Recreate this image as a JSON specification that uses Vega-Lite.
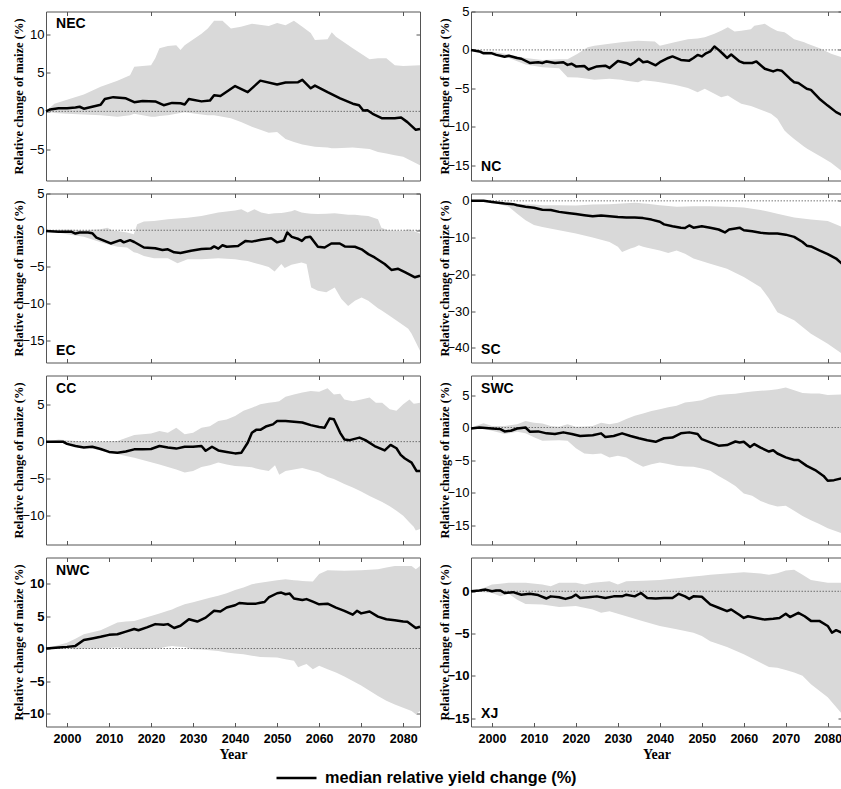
{
"$schema": "https://vega.github.io/schema/vega-lite/v6.json",
"padding": {"left": 11, "top": 4.5, "right": 0, "bottom": 2},
"datasets": {
"band": [
{"r":"NEC","t":1995,"lo":0,"hi":0},{"r":"NEC","t":1997,"lo":-0.2,"hi":1.0},{"r":"NEC","t":2000,"lo":-0.3,"hi":1.5},{"r":"NEC","t":2004,"lo":-0.4,"hi":2.2},{"r":"NEC","t":2008,"lo":-0.5,"hi":3.2},{"r":"NEC","t":2012,"lo":-0.7,"hi":4.0},{"r":"NEC","t":2015,"lo":-0.5,"hi":4.7},{"r":"NEC","t":2016,"lo":-0.3,"hi":5.8},{"r":"NEC","t":2020,"lo":-0.7,"hi":6.0},{"r":"NEC","t":2021,"lo":-0.7,"hi":6.9},{"r":"NEC","t":2022,"lo":-0.6,"hi":8.2},{"r":"NEC","t":2024,"lo":-0.5,"hi":8.5},{"r":"NEC","t":2026,"lo":-0.3,"hi":8.6},{"r":"NEC","t":2027,"lo":-0.2,"hi":8.0},{"r":"NEC","t":2028,"lo":-0.1,"hi":8.6},{"r":"NEC","t":2032,"lo":-0.4,"hi":10.1},{"r":"NEC","t":2033.5,"lo":-0.5,"hi":10.8},{"r":"NEC","t":2035,"lo":-0.5,"hi":11.8},{"r":"NEC","t":2037,"lo":-0.7,"hi":11.8},{"r":"NEC","t":2039,"lo":-0.9,"hi":10.8},{"r":"NEC","t":2041.4,"lo":-1.4,"hi":11.0},{"r":"NEC","t":2044,"lo":-2.0,"hi":11.4},{"r":"NEC","t":2048,"lo":-2.8,"hi":11.1},{"r":"NEC","t":2050,"lo":-2.7,"hi":11.5},{"r":"NEC","t":2052,"lo":-3.6,"hi":11.2},{"r":"NEC","t":2054,"lo":-4.0,"hi":11.8},{"r":"NEC","t":2056,"lo":-4.3,"hi":11.0},{"r":"NEC","t":2058,"lo":-4.5,"hi":10.2},{"r":"NEC","t":2059,"lo":-4.6,"hi":9.3},{"r":"NEC","t":2062,"lo":-4.7,"hi":9.4},{"r":"NEC","t":2063,"lo":-4.8,"hi":10.3},{"r":"NEC","t":2064,"lo":-4.8,"hi":9.7},{"r":"NEC","t":2068,"lo":-4.7,"hi":8.2},{"r":"NEC","t":2072,"lo":-4.9,"hi":6.8},{"r":"NEC","t":2074,"lo":-5.3,"hi":6.9},{"r":"NEC","t":2076,"lo":-5.5,"hi":6.9},{"r":"NEC","t":2078,"lo":-5.7,"hi":6.0},{"r":"NEC","t":2080,"lo":-5.9,"hi":5.9},{"r":"NEC","t":2084,"lo":-7.0,"hi":6.0},
{"r":"NC","t":1995,"lo":0,"hi":0},{"r":"NC","t":2000,"lo":-0.6,"hi":-0.2},{"r":"NC","t":2004,"lo":-1.05,"hi":-0.6},{"r":"NC","t":2008,"lo":-1.9,"hi":-1.05},{"r":"NC","t":2012,"lo":-2.25,"hi":-1.3},{"r":"NC","t":2016,"lo":-2.4,"hi":-1.2},{"r":"NC","t":2018,"lo":-3.55,"hi":-1.2},{"r":"NC","t":2020.4,"lo":-3.6,"hi":-0.5},{"r":"NC","t":2022.8,"lo":-3.75,"hi":0.35},{"r":"NC","t":2024.4,"lo":-3.9,"hi":0.55},{"r":"NC","t":2028,"lo":-3.75,"hi":0.8},{"r":"NC","t":2030.8,"lo":-3.9,"hi":1.0},{"r":"NC","t":2032,"lo":-4.0,"hi":1.05},{"r":"NC","t":2034.8,"lo":-4.2,"hi":1.2},{"r":"NC","t":2036,"lo":-3.95,"hi":1.15},{"r":"NC","t":2038.8,"lo":-4.1,"hi":1.1},{"r":"NC","t":2040,"lo":-4.2,"hi":0.55},{"r":"NC","t":2043.5,"lo":-4.55,"hi":1.0},{"r":"NC","t":2046.7,"lo":-4.95,"hi":1.4},{"r":"NC","t":2049,"lo":-5.5,"hi":1.5},{"r":"NC","t":2050.7,"lo":-5.05,"hi":1.65},{"r":"NC","t":2053,"lo":-5.7,"hi":2.1},{"r":"NC","t":2054.6,"lo":-6.15,"hi":2.5},{"r":"NC","t":2056.2,"lo":-5.95,"hi":2.95},{"r":"NC","t":2057.8,"lo":-6.5,"hi":2.4},{"r":"NC","t":2059.4,"lo":-7.0,"hi":2.5},{"r":"NC","t":2061.7,"lo":-7.3,"hi":2.7},{"r":"NC","t":2062.5,"lo":-7.45,"hi":3.15},{"r":"NC","t":2065,"lo":-8.0,"hi":3.4},{"r":"NC","t":2066.5,"lo":-8.3,"hi":2.9},{"r":"NC","t":2068,"lo":-8.95,"hi":2.45},{"r":"NC","t":2069.7,"lo":-10.5,"hi":2.3},{"r":"NC","t":2070.5,"lo":-10.9,"hi":2.0},{"r":"NC","t":2072,"lo":-11.6,"hi":1.4},{"r":"NC","t":2074.4,"lo":-12.6,"hi":1.0},{"r":"NC","t":2075.2,"lo":-12.9,"hi":0.8},{"r":"NC","t":2078.4,"lo":-13.9,"hi":0.15},{"r":"NC","t":2080.8,"lo":-14.7,"hi":-0.5},{"r":"NC","t":2083.4,"lo":-15.8,"hi":-0.95},
{"r":"EC","t":1995,"lo":0,"hi":0},{"r":"EC","t":2000,"lo":-0.55,"hi":0.1},{"r":"EC","t":2004,"lo":-0.9,"hi":0},{"r":"EC","t":2008,"lo":-1.65,"hi":0.15},{"r":"EC","t":2009.6,"lo":-1.9,"hi":0.35},{"r":"EC","t":2011.1,"lo":-2.1,"hi":-0.1},{"r":"EC","t":2012,"lo":-2.25,"hi":-0.1},{"r":"EC","t":2014.3,"lo":-2.35,"hi":-0.3},{"r":"EC","t":2015.9,"lo":-3.0,"hi":-0.55},{"r":"EC","t":2016.7,"lo":-3.1,"hi":0.8},{"r":"EC","t":2018.3,"lo":-3.5,"hi":1.2},{"r":"EC","t":2020.7,"lo":-3.8,"hi":1.25},{"r":"EC","t":2024,"lo":-3.8,"hi":1.5},{"r":"EC","t":2026.3,"lo":-4.5,"hi":1.6},{"r":"EC","t":2028.7,"lo":-3.95,"hi":1.7},{"r":"EC","t":2032,"lo":-3.95,"hi":1.95},{"r":"EC","t":2036,"lo":-3.8,"hi":2.4},{"r":"EC","t":2040,"lo":-3.95,"hi":2.7},{"r":"EC","t":2041.5,"lo":-4.1,"hi":2.85},{"r":"EC","t":2043,"lo":-4.2,"hi":2.4},{"r":"EC","t":2044.6,"lo":-4.45,"hi":2.85},{"r":"EC","t":2046.2,"lo":-4.7,"hi":2.4},{"r":"EC","t":2048,"lo":-5.0,"hi":2.2},{"r":"EC","t":2049.4,"lo":-5.6,"hi":2.3},{"r":"EC","t":2051,"lo":-4.6,"hi":2.35},{"r":"EC","t":2051.8,"lo":-5.15,"hi":2.4},{"r":"EC","t":2053.4,"lo":-4.7,"hi":2.6},{"r":"EC","t":2054.2,"lo":-4.6,"hi":2.75},{"r":"EC","t":2055.8,"lo":-4.4,"hi":2.4},{"r":"EC","t":2057,"lo":-4.6,"hi":2.3},{"r":"EC","t":2058.1,"lo":-7.8,"hi":2.25},{"r":"EC","t":2059.7,"lo":-8.25,"hi":2.2},{"r":"EC","t":2061.7,"lo":-8.45,"hi":2.25},{"r":"EC","t":2063.7,"lo":-7.8,"hi":2.3},{"r":"EC","t":2065.3,"lo":-9.35,"hi":2.2},{"r":"EC","t":2066.9,"lo":-10.3,"hi":2.1},{"r":"EC","t":2068.5,"lo":-9.6,"hi":2.1},{"r":"EC","t":2070.1,"lo":-9.15,"hi":2.0},{"r":"EC","t":2071.7,"lo":-9.6,"hi":1.95},{"r":"EC","t":2074,"lo":-10.6,"hi":1.5},{"r":"EC","t":2074.8,"lo":-10.9,"hi":0.35},{"r":"EC","t":2076.4,"lo":-11.5,"hi":0},{"r":"EC","t":2079.6,"lo":-12.75,"hi":-0.1},{"r":"EC","t":2081.2,"lo":-13.4,"hi":0.15},{"r":"EC","t":2082,"lo":-14.1,"hi":0.0},{"r":"EC","t":2084,"lo":-16.4,"hi":-0.45},
{"r":"SC","t":1995,"lo":0,"hi":0},{"r":"SC","t":2000,"lo":-0.4,"hi":-0.2},{"r":"SC","t":2004,"lo":-1.6,"hi":-0.6},{"r":"SC","t":2006,"lo":-3.5,"hi":-0.8},{"r":"SC","t":2008,"lo":-5.3,"hi":-0.9},{"r":"SC","t":2010,"lo":-6.6,"hi":-1.0},{"r":"SC","t":2012,"lo":-7.1,"hi":-1.2},{"r":"SC","t":2016,"lo":-8.0,"hi":-1.2},{"r":"SC","t":2020,"lo":-8.9,"hi":-1.3},{"r":"SC","t":2024,"lo":-10.0,"hi":-1.0},{"r":"SC","t":2028,"lo":-11.2,"hi":-0.9},{"r":"SC","t":2030,"lo":-12.5,"hi":-0.8},{"r":"SC","t":2031,"lo":-13.9,"hi":-0.75},{"r":"SC","t":2033,"lo":-13.0,"hi":-0.6},{"r":"SC","t":2034,"lo":-12.6,"hi":-0.5},{"r":"SC","t":2035,"lo":-12.1,"hi":-0.6},{"r":"SC","t":2036,"lo":-12.5,"hi":-0.7},{"r":"SC","t":2037,"lo":-12.8,"hi":-0.8},{"r":"SC","t":2040,"lo":-13.5,"hi":-1.2},{"r":"SC","t":2042,"lo":-14.2,"hi":-1.4},{"r":"SC","t":2044,"lo":-13.5,"hi":-1.6},{"r":"SC","t":2046,"lo":-14.4,"hi":-1.55},{"r":"SC","t":2048,"lo":-15.7,"hi":-1.5},{"r":"SC","t":2052,"lo":-17.1,"hi":-1.5},{"r":"SC","t":2056,"lo":-18.5,"hi":-1.6},{"r":"SC","t":2060,"lo":-20.7,"hi":-1.8},{"r":"SC","t":2064,"lo":-23.5,"hi":-2.5},{"r":"SC","t":2066,"lo":-26.6,"hi":-3.0},{"r":"SC","t":2068,"lo":-30.3,"hi":-3.5},{"r":"SC","t":2072,"lo":-32.5,"hi":-4.5},{"r":"SC","t":2076,"lo":-36.2,"hi":-5.1},{"r":"SC","t":2080,"lo":-38.9,"hi":-5.5},{"r":"SC","t":2083.4,"lo":-41.6,"hi":-7.1},
{"r":"CC","t":1995,"lo":0,"hi":0},{"r":"CC","t":1998,"lo":-0.1,"hi":0.3},{"r":"CC","t":2000,"lo":-0.3,"hi":0.2},{"r":"CC","t":2004,"lo":-0.7,"hi":0},{"r":"CC","t":2008,"lo":-1.2,"hi":0},{"r":"CC","t":2012,"lo":-1.7,"hi":0.1},{"r":"CC","t":2014,"lo":-1.95,"hi":0.5},{"r":"CC","t":2016,"lo":-2.2,"hi":0.9},{"r":"CC","t":2020,"lo":-2.8,"hi":1.1},{"r":"CC","t":2022,"lo":-3.1,"hi":1.45},{"r":"CC","t":2024,"lo":-3.45,"hi":1.2},{"r":"CC","t":2026,"lo":-3.8,"hi":1.9},{"r":"CC","t":2028,"lo":-4.2,"hi":1.0},{"r":"CC","t":2030,"lo":-4.0,"hi":1.2},{"r":"CC","t":2032,"lo":-3.45,"hi":1.9},{"r":"CC","t":2034,"lo":-3.2,"hi":2.1},{"r":"CC","t":2036,"lo":-2.85,"hi":2.8},{"r":"CC","t":2038,"lo":-3.1,"hi":3.0},{"r":"CC","t":2040,"lo":-3.3,"hi":3.5},{"r":"CC","t":2042,"lo":-3.4,"hi":4.2},{"r":"CC","t":2044,"lo":-3.5,"hi":4.6},{"r":"CC","t":2046,"lo":-3.8,"hi":5.1},{"r":"CC","t":2048,"lo":-4.0,"hi":5.3},{"r":"CC","t":2049.5,"lo":-3.2,"hi":5.4},{"r":"CC","t":2050.5,"lo":-4.5,"hi":5.5},{"r":"CC","t":2052,"lo":-4.0,"hi":6.1},{"r":"CC","t":2054,"lo":-3.8,"hi":6.4},{"r":"CC","t":2056,"lo":-3.6,"hi":6.7},{"r":"CC","t":2058,"lo":-3.9,"hi":6.9},{"r":"CC","t":2060,"lo":-4.2,"hi":6.8},{"r":"CC","t":2062,"lo":-4.8,"hi":7.25},{"r":"CC","t":2063.5,"lo":-5.1,"hi":6.4},{"r":"CC","t":2065,"lo":-5.5,"hi":6.5},{"r":"CC","t":2066,"lo":-5.75,"hi":5.75},{"r":"CC","t":2068,"lo":-6.25,"hi":5.5},{"r":"CC","t":2070,"lo":-6.8,"hi":5.75},{"r":"CC","t":2072,"lo":-7.4,"hi":6.0},{"r":"CC","t":2073.5,"lo":-7.8,"hi":5.3},{"r":"CC","t":2075,"lo":-8.2,"hi":5.3},{"r":"CC","t":2076.8,"lo":-8.8,"hi":4.4},{"r":"CC","t":2078.4,"lo":-9.4,"hi":4.2},{"r":"CC","t":2080,"lo":-10.1,"hi":5.1},{"r":"CC","t":2081.5,"lo":-11.0,"hi":5.75},{"r":"CC","t":2082.5,"lo":-11.6,"hi":5.15},{"r":"CC","t":2083,"lo":-12.1,"hi":5.2},{"r":"CC","t":2084,"lo":-11.9,"hi":5.3},
{"r":"SWC","t":1995,"lo":0,"hi":0},{"r":"SWC","t":1998,"lo":-0.2,"hi":0.65},{"r":"SWC","t":2000,"lo":-0.5,"hi":0.25},{"r":"SWC","t":2003,"lo":-1.0,"hi":0.25},{"r":"SWC","t":2006,"lo":-0.65,"hi":0.5},{"r":"SWC","t":2008,"lo":-0.9,"hi":1.0},{"r":"SWC","t":2010,"lo":-1.5,"hi":0.75},{"r":"SWC","t":2012,"lo":-2.05,"hi":0.6},{"r":"SWC","t":2014,"lo":-2.0,"hi":0.25},{"r":"SWC","t":2016,"lo":-1.95,"hi":0.1},{"r":"SWC","t":2018,"lo":-2.05,"hi":0.5},{"r":"SWC","t":2020,"lo":-3.2,"hi":0.1},{"r":"SWC","t":2022,"lo":-4.0,"hi":0.15},{"r":"SWC","t":2024,"lo":-4.1,"hi":0.25},{"r":"SWC","t":2026,"lo":-4.0,"hi":0.75},{"r":"SWC","t":2028,"lo":-4.6,"hi":0.5},{"r":"SWC","t":2030,"lo":-4.35,"hi":0.75},{"r":"SWC","t":2032,"lo":-4.6,"hi":1.3},{"r":"SWC","t":2034,"lo":-5.4,"hi":1.8},{"r":"SWC","t":2036,"lo":-6.05,"hi":2.15},{"r":"SWC","t":2038,"lo":-5.65,"hi":2.55},{"r":"SWC","t":2040,"lo":-5.4,"hi":2.8},{"r":"SWC","t":2042,"lo":-5.6,"hi":3.1},{"r":"SWC","t":2044,"lo":-5.9,"hi":3.35},{"r":"SWC","t":2046,"lo":-6.0,"hi":3.85},{"r":"SWC","t":2048,"lo":-6.05,"hi":4.0},{"r":"SWC","t":2050,"lo":-6.3,"hi":4.2},{"r":"SWC","t":2052,"lo":-6.65,"hi":4.7},{"r":"SWC","t":2054,"lo":-7.45,"hi":5.0},{"r":"SWC","t":2056,"lo":-8.2,"hi":5.1},{"r":"SWC","t":2058,"lo":-9.0,"hi":5.2},{"r":"SWC","t":2060,"lo":-10.15,"hi":5.4},{"r":"SWC","t":2062,"lo":-10.5,"hi":5.55},{"r":"SWC","t":2064,"lo":-11.3,"hi":5.65},{"r":"SWC","t":2066,"lo":-11.8,"hi":5.75},{"r":"SWC","t":2068,"lo":-12.15,"hi":5.9},{"r":"SWC","t":2070,"lo":-12.05,"hi":6.15},{"r":"SWC","t":2072,"lo":-12.8,"hi":5.75},{"r":"SWC","t":2074,"lo":-13.6,"hi":5.3},{"r":"SWC","t":2076,"lo":-14.25,"hi":5.25},{"r":"SWC","t":2078,"lo":-14.85,"hi":5.25},{"r":"SWC","t":2080,"lo":-15.5,"hi":5.0},{"r":"SWC","t":2083.4,"lo":-16.3,"hi":5.1},
{"r":"NWC","t":1995,"lo":0,"hi":0},{"r":"NWC","t":2000,"lo":0,"hi":0.9},{"r":"NWC","t":2002,"lo":-0.1,"hi":1.5},{"r":"NWC","t":2004,"lo":-0.05,"hi":2.2},{"r":"NWC","t":2006,"lo":0,"hi":2.5},{"r":"NWC","t":2008,"lo":0.05,"hi":2.8},{"r":"NWC","t":2012,"lo":0.15,"hi":4.0},{"r":"NWC","t":2014,"lo":0.05,"hi":4.15},{"r":"NWC","t":2016,"lo":0,"hi":4.25},{"r":"NWC","t":2018,"lo":-0.1,"hi":4.6},{"r":"NWC","t":2020,"lo":0,"hi":5.0},{"r":"NWC","t":2022,"lo":0.05,"hi":5.4},{"r":"NWC","t":2024,"lo":0.3,"hi":5.8},{"r":"NWC","t":2025,"lo":0.4,"hi":6.0},{"r":"NWC","t":2026,"lo":0.3,"hi":6.3},{"r":"NWC","t":2028,"lo":0.25,"hi":6.8},{"r":"NWC","t":2030,"lo":-0.1,"hi":7.1},{"r":"NWC","t":2032,"lo":-0.15,"hi":7.45},{"r":"NWC","t":2034,"lo":-0.25,"hi":7.8},{"r":"NWC","t":2036,"lo":-0.4,"hi":8.1},{"r":"NWC","t":2038,"lo":-0.6,"hi":8.5},{"r":"NWC","t":2040,"lo":-0.75,"hi":9.0},{"r":"NWC","t":2042,"lo":-0.9,"hi":9.4},{"r":"NWC","t":2044,"lo":-1.1,"hi":9.9},{"r":"NWC","t":2046,"lo":-1.3,"hi":10.1},{"r":"NWC","t":2048,"lo":-1.35,"hi":10.3},{"r":"NWC","t":2050,"lo":-1.4,"hi":10.5},{"r":"NWC","t":2052,"lo":-1.65,"hi":10.65},{"r":"NWC","t":2054,"lo":-1.9,"hi":10.5},{"r":"NWC","t":2055,"lo":-2.9,"hi":10.45},{"r":"NWC","t":2056,"lo":-2.6,"hi":10.4},{"r":"NWC","t":2057,"lo":-2.4,"hi":10.35},{"r":"NWC","t":2058.5,"lo":-3.2,"hi":10.3},{"r":"NWC","t":2060,"lo":-2.65,"hi":11.45},{"r":"NWC","t":2062,"lo":-3.2,"hi":12.05},{"r":"NWC","t":2064,"lo":-3.7,"hi":12.0},{"r":"NWC","t":2066,"lo":-4.3,"hi":11.95},{"r":"NWC","t":2068,"lo":-5.0,"hi":12.0},{"r":"NWC","t":2070,"lo":-5.7,"hi":12.05},{"r":"NWC","t":2072,"lo":-6.5,"hi":12.1},{"r":"NWC","t":2074,"lo":-7.3,"hi":12.2},{"r":"NWC","t":2076,"lo":-8.05,"hi":12.45},{"r":"NWC","t":2078,"lo":-8.6,"hi":12.7},{"r":"NWC","t":2080,"lo":-9.1,"hi":12.7},{"r":"NWC","t":2082,"lo":-9.6,"hi":12.7},{"r":"NWC","t":2083,"lo":-10.1,"hi":12.2},{"r":"NWC","t":2084,"lo":-9.6,"hi":12.7},
{"r":"XJ","t":1995,"lo":0,"hi":0},{"r":"XJ","t":1998,"lo":-0.1,"hi":0.4},{"r":"XJ","t":2000,"lo":-0.2,"hi":0.8},{"r":"XJ","t":2002,"lo":-0.6,"hi":0.9},{"r":"XJ","t":2004,"lo":-0.3,"hi":1.0},{"r":"XJ","t":2006,"lo":-1.0,"hi":1.0},{"r":"XJ","t":2008,"lo":-1.5,"hi":1.0},{"r":"XJ","t":2012,"lo":-1.55,"hi":0.8},{"r":"XJ","t":2014,"lo":-1.7,"hi":0.6},{"r":"XJ","t":2016,"lo":-1.85,"hi":1.0},{"r":"XJ","t":2020,"lo":-1.75,"hi":1.0},{"r":"XJ","t":2022,"lo":-1.95,"hi":0.8},{"r":"XJ","t":2024,"lo":-2.15,"hi":1.0},{"r":"XJ","t":2026,"lo":-2.55,"hi":1.1},{"r":"XJ","t":2028,"lo":-2.35,"hi":1.2},{"r":"XJ","t":2030,"lo":-2.65,"hi":0.8},{"r":"XJ","t":2032,"lo":-2.95,"hi":1.2},{"r":"XJ","t":2036,"lo":-3.55,"hi":1.25},{"r":"XJ","t":2040,"lo":-4.1,"hi":1.35},{"r":"XJ","t":2044,"lo":-4.5,"hi":1.55},{"r":"XJ","t":2048,"lo":-4.9,"hi":1.75},{"r":"XJ","t":2050,"lo":-5.3,"hi":1.85},{"r":"XJ","t":2052,"lo":-5.9,"hi":1.95},{"r":"XJ","t":2056,"lo":-6.6,"hi":2.1},{"r":"XJ","t":2060,"lo":-7.45,"hi":2.25},{"r":"XJ","t":2064,"lo":-8.45,"hi":2.1},{"r":"XJ","t":2066,"lo":-8.95,"hi":1.95},{"r":"XJ","t":2068,"lo":-9.05,"hi":2.15},{"r":"XJ","t":2070,"lo":-9.3,"hi":2.45},{"r":"XJ","t":2072,"lo":-9.6,"hi":2.55},{"r":"XJ","t":2074,"lo":-10.0,"hi":1.95},{"r":"XJ","t":2076,"lo":-11.0,"hi":1.35},{"r":"XJ","t":2080,"lo":-12.55,"hi":1.0},{"r":"XJ","t":2083.4,"lo":-14.5,"hi":1.0}
],
"med": [
{"r":"NEC","t":1995,"v":0},{"r":"NEC","t":1996,"v":0.25},{"r":"NEC","t":1998,"v":0.4},{"r":"NEC","t":2000,"v":0.4},{"r":"NEC","t":2002,"v":0.5},{"r":"NEC","t":2003,"v":0.6},{"r":"NEC","t":2004,"v":0.35},{"r":"NEC","t":2006,"v":0.6},{"r":"NEC","t":2008,"v":0.85},{"r":"NEC","t":2009,"v":1.6},{"r":"NEC","t":2011,"v":1.85},{"r":"NEC","t":2014,"v":1.7},{"r":"NEC","t":2016,"v":1.2},{"r":"NEC","t":2018,"v":1.35},{"r":"NEC","t":2021,"v":1.3},{"r":"NEC","t":2023,"v":0.8},{"r":"NEC","t":2025,"v":1.1},{"r":"NEC","t":2027,"v":1.05},{"r":"NEC","t":2028,"v":0.9},{"r":"NEC","t":2029,"v":1.6},{"r":"NEC","t":2032,"v":1.3},{"r":"NEC","t":2034,"v":1.4},{"r":"NEC","t":2035,"v":2.1},{"r":"NEC","t":2036.5,"v":2.0},{"r":"NEC","t":2040,"v":3.3},{"r":"NEC","t":2043,"v":2.5},{"r":"NEC","t":2046,"v":4.0},{"r":"NEC","t":2050,"v":3.5},{"r":"NEC","t":2052,"v":3.75},{"r":"NEC","t":2055,"v":3.8},{"r":"NEC","t":2056,"v":4.1},{"r":"NEC","t":2058,"v":3.0},{"r":"NEC","t":2059,"v":3.35},{"r":"NEC","t":2062,"v":2.5},{"r":"NEC","t":2065,"v":1.7},{"r":"NEC","t":2068,"v":1.0},{"r":"NEC","t":2069.5,"v":0.8},{"r":"NEC","t":2070.5,"v":0.1},{"r":"NEC","t":2071.5,"v":0.15},{"r":"NEC","t":2073,"v":-0.4},{"r":"NEC","t":2075,"v":-0.9},{"r":"NEC","t":2078,"v":-0.9},{"r":"NEC","t":2079.5,"v":-0.8},{"r":"NEC","t":2081,"v":-1.4},{"r":"NEC","t":2083,"v":-2.4},{"r":"NEC","t":2084,"v":-2.3},
{"r":"NC","t":1995,"v":0},{"r":"NC","t":1997,"v":-0.2},{"r":"NC","t":1998,"v":-0.45},{"r":"NC","t":2000,"v":-0.45},{"r":"NC","t":2001,"v":-0.65},{"r":"NC","t":2003,"v":-0.9},{"r":"NC","t":2004,"v":-0.75},{"r":"NC","t":2006,"v":-1.05},{"r":"NC","t":2007,"v":-1.15},{"r":"NC","t":2009,"v":-1.7},{"r":"NC","t":2011,"v":-1.6},{"r":"NC","t":2012,"v":-1.7},{"r":"NC","t":2013,"v":-1.5},{"r":"NC","t":2015,"v":-1.7},{"r":"NC","t":2017,"v":-1.6},{"r":"NC","t":2018,"v":-1.95},{"r":"NC","t":2019,"v":-1.8},{"r":"NC","t":2020,"v":-2.15},{"r":"NC","t":2022,"v":-2.1},{"r":"NC","t":2023,"v":-2.55},{"r":"NC","t":2025,"v":-2.15},{"r":"NC","t":2027,"v":-2.05},{"r":"NC","t":2028,"v":-2.35},{"r":"NC","t":2030,"v":-1.45},{"r":"NC","t":2032,"v":-1.7},{"r":"NC","t":2033,"v":-1.95},{"r":"NC","t":2034,"v":-1.6},{"r":"NC","t":2035,"v":-1.15},{"r":"NC","t":2036,"v":-1.6},{"r":"NC","t":2037,"v":-1.5},{"r":"NC","t":2039,"v":-2.0},{"r":"NC","t":2040,"v":-1.6},{"r":"NC","t":2042,"v":-1.05},{"r":"NC","t":2043,"v":-0.85},{"r":"NC","t":2045,"v":-1.3},{"r":"NC","t":2047,"v":-1.4},{"r":"NC","t":2048,"v":-1.05},{"r":"NC","t":2049,"v":-0.65},{"r":"NC","t":2050,"v":-0.85},{"r":"NC","t":2051,"v":-0.45},{"r":"NC","t":2052,"v":-0.2},{"r":"NC","t":2053,"v":0.45},{"r":"NC","t":2054,"v":0},{"r":"NC","t":2055,"v":-0.5},{"r":"NC","t":2056,"v":-1.05},{"r":"NC","t":2057,"v":-0.6},{"r":"NC","t":2059,"v":-1.5},{"r":"NC","t":2060,"v":-1.7},{"r":"NC","t":2062,"v":-1.7},{"r":"NC","t":2063,"v":-1.5},{"r":"NC","t":2065,"v":-2.45},{"r":"NC","t":2067,"v":-2.8},{"r":"NC","t":2068,"v":-2.6},{"r":"NC","t":2069,"v":-2.7},{"r":"NC","t":2071,"v":-3.75},{"r":"NC","t":2072,"v":-4.2},{"r":"NC","t":2073,"v":-4.3},{"r":"NC","t":2075,"v":-5.05},{"r":"NC","t":2076,"v":-5.2},{"r":"NC","t":2078,"v":-6.35},{"r":"NC","t":2080,"v":-7.25},{"r":"NC","t":2082,"v":-8.1},{"r":"NC","t":2083.4,"v":-8.5},
{"r":"EC","t":1995,"v":-0.1},{"r":"EC","t":1998,"v":-0.2},{"r":"EC","t":2001,"v":-0.2},{"r":"EC","t":2002,"v":-0.45},{"r":"EC","t":2003,"v":-0.3},{"r":"EC","t":2005,"v":-0.3},{"r":"EC","t":2006,"v":-0.4},{"r":"EC","t":2007,"v":-1.0},{"r":"EC","t":2010.4,"v":-1.8},{"r":"EC","t":2012.7,"v":-1.35},{"r":"EC","t":2013.5,"v":-1.65},{"r":"EC","t":2015,"v":-1.35},{"r":"EC","t":2016,"v":-1.6},{"r":"EC","t":2018.3,"v":-2.35},{"r":"EC","t":2021,"v":-2.45},{"r":"EC","t":2022.7,"v":-2.7},{"r":"EC","t":2024,"v":-2.6},{"r":"EC","t":2025.5,"v":-3.0},{"r":"EC","t":2027,"v":-3.1},{"r":"EC","t":2029.5,"v":-2.8},{"r":"EC","t":2032,"v":-2.55},{"r":"EC","t":2034.2,"v":-2.5},{"r":"EC","t":2035,"v":-2.2},{"r":"EC","t":2036,"v":-2.5},{"r":"EC","t":2037,"v":-2.05},{"r":"EC","t":2038,"v":-2.25},{"r":"EC","t":2040.7,"v":-2.15},{"r":"EC","t":2042.5,"v":-1.45},{"r":"EC","t":2044,"v":-1.55},{"r":"EC","t":2046.2,"v":-1.3},{"r":"EC","t":2048.6,"v":-1.1},{"r":"EC","t":2050,"v":-1.65},{"r":"EC","t":2051.6,"v":-1.4},{"r":"EC","t":2052.4,"v":-0.3},{"r":"EC","t":2053.5,"v":-0.9},{"r":"EC","t":2055.1,"v":-1.2},{"r":"EC","t":2055.9,"v":-1.45},{"r":"EC","t":2056.7,"v":-1.0},{"r":"EC","t":2057.9,"v":-0.9},{"r":"EC","t":2059.7,"v":-2.25},{"r":"EC","t":2061.3,"v":-2.35},{"r":"EC","t":2062.9,"v":-1.8},{"r":"EC","t":2064.9,"v":-1.8},{"r":"EC","t":2066.1,"v":-2.2},{"r":"EC","t":2068.5,"v":-2.25},{"r":"EC","t":2070.1,"v":-2.6},{"r":"EC","t":2071.7,"v":-3.25},{"r":"EC","t":2073.2,"v":-3.7},{"r":"EC","t":2075.6,"v":-4.6},{"r":"EC","t":2077.2,"v":-5.4},{"r":"EC","t":2078.8,"v":-5.25},{"r":"EC","t":2080.4,"v":-5.7},{"r":"EC","t":2082.8,"v":-6.4},{"r":"EC","t":2084,"v":-6.2},
{"r":"SC","t":1995,"v":0},{"r":"SC","t":1998,"v":0},{"r":"SC","t":2000,"v":-0.3},{"r":"SC","t":2003,"v":-0.7},{"r":"SC","t":2005,"v":-0.9},{"r":"SC","t":2006,"v":-1.2},{"r":"SC","t":2008,"v":-1.6},{"r":"SC","t":2010,"v":-1.9},{"r":"SC","t":2012,"v":-2.4},{"r":"SC","t":2014,"v":-2.5},{"r":"SC","t":2016,"v":-3.0},{"r":"SC","t":2018,"v":-3.3},{"r":"SC","t":2020,"v":-3.6},{"r":"SC","t":2022,"v":-3.9},{"r":"SC","t":2024,"v":-4.2},{"r":"SC","t":2026,"v":-4.0},{"r":"SC","t":2028,"v":-4.2},{"r":"SC","t":2030,"v":-4.4},{"r":"SC","t":2032,"v":-4.5},{"r":"SC","t":2034,"v":-4.5},{"r":"SC","t":2036,"v":-4.7},{"r":"SC","t":2038,"v":-5.1},{"r":"SC","t":2040,"v":-5.7},{"r":"SC","t":2041,"v":-6.4},{"r":"SC","t":2043,"v":-6.9},{"r":"SC","t":2045,"v":-7.3},{"r":"SC","t":2046,"v":-7.4},{"r":"SC","t":2047,"v":-6.7},{"r":"SC","t":2048,"v":-7.3},{"r":"SC","t":2049,"v":-7.1},{"r":"SC","t":2050,"v":-6.9},{"r":"SC","t":2052,"v":-7.3},{"r":"SC","t":2054,"v":-7.8},{"r":"SC","t":2055.5,"v":-8.6},{"r":"SC","t":2056.5,"v":-7.8},{"r":"SC","t":2058,"v":-7.5},{"r":"SC","t":2059,"v":-7.3},{"r":"SC","t":2060,"v":-8.0},{"r":"SC","t":2062,"v":-8.3},{"r":"SC","t":2064,"v":-8.7},{"r":"SC","t":2066,"v":-8.9},{"r":"SC","t":2068,"v":-8.9},{"r":"SC","t":2070,"v":-9.2},{"r":"SC","t":2072,"v":-9.8},{"r":"SC","t":2074,"v":-11.2},{"r":"SC","t":2075,"v":-12.2},{"r":"SC","t":2076,"v":-12.4},{"r":"SC","t":2078,"v":-13.5},{"r":"SC","t":2080,"v":-14.5},{"r":"SC","t":2082,"v":-15.7},{"r":"SC","t":2083.4,"v":-17.1},
{"r":"CC","t":1995,"v":0},{"r":"CC","t":1997,"v":0},{"r":"CC","t":1999,"v":0},{"r":"CC","t":2000,"v":-0.3},{"r":"CC","t":2002,"v":-0.6},{"r":"CC","t":2004,"v":-0.8},{"r":"CC","t":2006,"v":-0.7},{"r":"CC","t":2008,"v":-1.0},{"r":"CC","t":2010,"v":-1.4},{"r":"CC","t":2012,"v":-1.5},{"r":"CC","t":2014,"v":-1.35},{"r":"CC","t":2016,"v":-1.05},{"r":"CC","t":2018,"v":-1.05},{"r":"CC","t":2020,"v":-1.0},{"r":"CC","t":2022,"v":-0.6},{"r":"CC","t":2024,"v":-0.8},{"r":"CC","t":2026,"v":-0.95},{"r":"CC","t":2028,"v":-0.7},{"r":"CC","t":2030,"v":-0.7},{"r":"CC","t":2032,"v":-0.6},{"r":"CC","t":2033,"v":-1.25},{"r":"CC","t":2034.5,"v":-0.7},{"r":"CC","t":2036,"v":-1.2},{"r":"CC","t":2038,"v":-1.4},{"r":"CC","t":2040,"v":-1.6},{"r":"CC","t":2041.5,"v":-1.5},{"r":"CC","t":2043,"v":-0.15},{"r":"CC","t":2044,"v":1.2},{"r":"CC","t":2045,"v":1.6},{"r":"CC","t":2046,"v":1.6},{"r":"CC","t":2047.5,"v":2.1},{"r":"CC","t":2049,"v":2.35},{"r":"CC","t":2050,"v":2.8},{"r":"CC","t":2052,"v":2.8},{"r":"CC","t":2054,"v":2.7},{"r":"CC","t":2056,"v":2.6},{"r":"CC","t":2058,"v":2.25},{"r":"CC","t":2060,"v":2.0},{"r":"CC","t":2061.3,"v":1.9},{"r":"CC","t":2062.5,"v":3.15},{"r":"CC","t":2063.5,"v":3.05},{"r":"CC","t":2065,"v":1.2},{"r":"CC","t":2066,"v":0.3},{"r":"CC","t":2067.3,"v":0.2},{"r":"CC","t":2069.6,"v":0.55},{"r":"CC","t":2071,"v":0.2},{"r":"CC","t":2073.2,"v":-0.6},{"r":"CC","t":2075.6,"v":-1.2},{"r":"CC","t":2077,"v":-0.45},{"r":"CC","t":2078.4,"v":-0.9},{"r":"CC","t":2079.4,"v":-1.8},{"r":"CC","t":2080.4,"v":-2.3},{"r":"CC","t":2082,"v":-2.85},{"r":"CC","t":2083.2,"v":-4.0},{"r":"CC","t":2084,"v":-4.0},
{"r":"SWC","t":1995,"v":-0.15},{"r":"SWC","t":1997,"v":0},{"r":"SWC","t":2000,"v":-0.15},{"r":"SWC","t":2002,"v":-0.25},{"r":"SWC","t":2003,"v":-0.6},{"r":"SWC","t":2004.5,"v":-0.5},{"r":"SWC","t":2006,"v":-0.15},{"r":"SWC","t":2008,"v":0},{"r":"SWC","t":2009,"v":-0.65},{"r":"SWC","t":2011,"v":-0.6},{"r":"SWC","t":2013,"v":-0.9},{"r":"SWC","t":2015,"v":-1.0},{"r":"SWC","t":2017,"v":-0.75},{"r":"SWC","t":2019,"v":-1.0},{"r":"SWC","t":2021,"v":-1.3},{"r":"SWC","t":2024,"v":-1.2},{"r":"SWC","t":2026,"v":-0.9},{"r":"SWC","t":2027,"v":-1.45},{"r":"SWC","t":2029,"v":-1.3},{"r":"SWC","t":2031,"v":-0.9},{"r":"SWC","t":2033,"v":-1.3},{"r":"SWC","t":2035,"v":-1.65},{"r":"SWC","t":2037,"v":-1.95},{"r":"SWC","t":2039,"v":-2.2},{"r":"SWC","t":2041,"v":-1.65},{"r":"SWC","t":2043,"v":-1.55},{"r":"SWC","t":2045,"v":-0.9},{"r":"SWC","t":2047,"v":-0.75},{"r":"SWC","t":2049,"v":-1.0},{"r":"SWC","t":2050,"v":-1.8},{"r":"SWC","t":2052,"v":-2.3},{"r":"SWC","t":2054,"v":-2.8},{"r":"SWC","t":2056,"v":-2.7},{"r":"SWC","t":2058,"v":-2.15},{"r":"SWC","t":2059,"v":-2.3},{"r":"SWC","t":2060,"v":-2.2},{"r":"SWC","t":2061.5,"v":-3.0},{"r":"SWC","t":2062.5,"v":-2.55},{"r":"SWC","t":2064,"v":-3.1},{"r":"SWC","t":2066,"v":-3.7},{"r":"SWC","t":2067,"v":-3.5},{"r":"SWC","t":2068,"v":-4.0},{"r":"SWC","t":2070,"v":-4.6},{"r":"SWC","t":2072,"v":-5.0},{"r":"SWC","t":2073,"v":-5.0},{"r":"SWC","t":2075,"v":-5.9},{"r":"SWC","t":2077,"v":-6.55},{"r":"SWC","t":2079,"v":-7.45},{"r":"SWC","t":2080,"v":-8.2},{"r":"SWC","t":2081.5,"v":-8.1},{"r":"SWC","t":2083.4,"v":-7.8},
{"r":"NWC","t":1995,"v":0},{"r":"NWC","t":1998,"v":0.15},{"r":"NWC","t":2000,"v":0.25},{"r":"NWC","t":2002,"v":0.4},{"r":"NWC","t":2004,"v":1.3},{"r":"NWC","t":2006,"v":1.55},{"r":"NWC","t":2008,"v":1.8},{"r":"NWC","t":2010,"v":2.1},{"r":"NWC","t":2012,"v":2.2},{"r":"NWC","t":2014,"v":2.6},{"r":"NWC","t":2016,"v":3.0},{"r":"NWC","t":2017,"v":2.8},{"r":"NWC","t":2019,"v":3.25},{"r":"NWC","t":2021,"v":3.75},{"r":"NWC","t":2023,"v":3.65},{"r":"NWC","t":2024,"v":3.75},{"r":"NWC","t":2025.5,"v":3.15},{"r":"NWC","t":2027,"v":3.5},{"r":"NWC","t":2029,"v":4.5},{"r":"NWC","t":2031,"v":4.15},{"r":"NWC","t":2033,"v":4.75},{"r":"NWC","t":2035,"v":5.8},{"r":"NWC","t":2036.5,"v":5.7},{"r":"NWC","t":2038,"v":6.3},{"r":"NWC","t":2040,"v":6.65},{"r":"NWC","t":2041,"v":7.0},{"r":"NWC","t":2043,"v":6.9},{"r":"NWC","t":2045,"v":6.9},{"r":"NWC","t":2046,"v":7.05},{"r":"NWC","t":2047,"v":7.15},{"r":"NWC","t":2048,"v":7.85},{"r":"NWC","t":2050,"v":8.5},{"r":"NWC","t":2051,"v":8.6},{"r":"NWC","t":2052,"v":8.35},{"r":"NWC","t":2053,"v":8.45},{"r":"NWC","t":2054,"v":7.7},{"r":"NWC","t":2056,"v":7.45},{"r":"NWC","t":2057,"v":7.6},{"r":"NWC","t":2058.5,"v":7.2},{"r":"NWC","t":2060,"v":6.8},{"r":"NWC","t":2062,"v":6.9},{"r":"NWC","t":2064,"v":6.3},{"r":"NWC","t":2066,"v":5.8},{"r":"NWC","t":2068,"v":5.2},{"r":"NWC","t":2069,"v":5.8},{"r":"NWC","t":2070,"v":5.4},{"r":"NWC","t":2072,"v":5.7},{"r":"NWC","t":2074,"v":4.9},{"r":"NWC","t":2076,"v":4.5},{"r":"NWC","t":2078,"v":4.35},{"r":"NWC","t":2080,"v":4.15},{"r":"NWC","t":2081,"v":4.1},{"r":"NWC","t":2083,"v":3.15},{"r":"NWC","t":2084,"v":3.35},
{"r":"XJ","t":1995,"v":0},{"r":"XJ","t":1997,"v":0.1},{"r":"XJ","t":1998.5,"v":0.2},{"r":"XJ","t":2000,"v":0},{"r":"XJ","t":2001,"v":0.1},{"r":"XJ","t":2002,"v":0.1},{"r":"XJ","t":2003,"v":-0.2},{"r":"XJ","t":2005,"v":-0.1},{"r":"XJ","t":2007,"v":-0.4},{"r":"XJ","t":2009,"v":-0.3},{"r":"XJ","t":2011,"v":-0.45},{"r":"XJ","t":2013,"v":-0.85},{"r":"XJ","t":2014,"v":-0.6},{"r":"XJ","t":2016,"v":-0.7},{"r":"XJ","t":2017.5,"v":-0.9},{"r":"XJ","t":2019,"v":-0.7},{"r":"XJ","t":2020,"v":-0.4},{"r":"XJ","t":2021,"v":-0.8},{"r":"XJ","t":2023,"v":-0.7},{"r":"XJ","t":2025,"v":-0.6},{"r":"XJ","t":2027,"v":-0.8},{"r":"XJ","t":2029,"v":-0.6},{"r":"XJ","t":2031,"v":-0.6},{"r":"XJ","t":2032,"v":-0.4},{"r":"XJ","t":2034,"v":-0.6},{"r":"XJ","t":2035.5,"v":-0.2},{"r":"XJ","t":2037,"v":-0.8},{"r":"XJ","t":2039,"v":-0.85},{"r":"XJ","t":2041,"v":-0.8},{"r":"XJ","t":2043,"v":-0.8},{"r":"XJ","t":2044.5,"v":-0.3},{"r":"XJ","t":2046,"v":-0.6},{"r":"XJ","t":2047,"v":-0.9},{"r":"XJ","t":2048,"v":-0.6},{"r":"XJ","t":2050,"v":-0.65},{"r":"XJ","t":2052,"v":-1.55},{"r":"XJ","t":2054,"v":-1.95},{"r":"XJ","t":2056,"v":-2.35},{"r":"XJ","t":2057,"v":-2.15},{"r":"XJ","t":2059,"v":-2.8},{"r":"XJ","t":2060,"v":-3.15},{"r":"XJ","t":2061,"v":-2.95},{"r":"XJ","t":2063,"v":-3.15},{"r":"XJ","t":2065,"v":-3.35},{"r":"XJ","t":2067,"v":-3.25},{"r":"XJ","t":2068.5,"v":-3.15},{"r":"XJ","t":2070,"v":-2.65},{"r":"XJ","t":2071,"v":-3.05},{"r":"XJ","t":2073,"v":-2.55},{"r":"XJ","t":2074.5,"v":-2.95},{"r":"XJ","t":2076,"v":-3.5},{"r":"XJ","t":2078,"v":-3.5},{"r":"XJ","t":2080,"v":-4.1},{"r":"XJ","t":2081,"v":-4.9},{"r":"XJ","t":2082,"v":-4.6},{"r":"XJ","t":2083.4,"v":-4.9}
],
"lab": [
{"r":"NEC","t":1997.4,"v":11.4,"label":"NEC"},{"r":"NC","t":1997.4,"v":-15.3,"label":"NC"},{"r":"EC","t":1997.4,"v":-16.5,"label":"EC"},{"r":"SC","t":1997.4,"v":-40.7,"label":"SC"},{"r":"CC","t":1997.4,"v":7.13,"label":"CC"},{"r":"SWC","t":1997.4,"v":5.9,"label":"SWC"},{"r":"NWC","t":1997.4,"v":11.95,"label":"NWC"},{"r":"XJ","t":1997.4,"v":-14.5,"label":"XJ"}
]
},
"columns": 2,
"spacing": {"row": 13, "column": 51},
"bounds": "flush",
"concat": [
{"width":374,"height":169,"resolve":{"axis":{"x":"independent","y":"independent"}},"layer":[
 {"data":{"name":"band"},"transform":[{"filter":"datum.r==='NEC'"}],"mark":{"type":"area","color":"#d9d9d9","opacity":1},
  "encoding":{"x":{"field":"t","type":"quantitative","scale":{"domain":[1995,2084],"nice":false,"zero":false},"axis":{"orient":"bottom","values":[2000,2020,2040,2060,2080],"labels":false,"title":null}},
   "y":{"field":"lo","type":"quantitative","scale":{"domain":[-9,13],"nice":false,"zero":false},"axis":{"orient":"left","values":[-5,0,5,10],"title":"Relative change of maize (%)","titleX":-23.7,"labelFontSize":13,"titleFontSize":12.5}},"y2":{"field":"hi"}}},
 {"data":{"values":[{}]},"mark":{"type":"rule","color":"#555","strokeWidth":0.8,"strokeDash":[1.5,1.5]},"encoding":{"y":{"datum":0,"type":"quantitative","axis":null}}},
 {"data":{"name":"med"},"transform":[{"filter":"datum.r==='NEC'"}],"mark":{"type":"line","strokeWidth":2.5,"strokeJoin":"round"},
  "encoding":{"x":{"field":"t","type":"quantitative","axis":{"orient":"top","values":[2000,2020,2040,2060,2080],"labels":false,"title":null}},"y":{"field":"v","type":"quantitative","axis":{"orient":"right","values":[-5,0,5,10],"labels":false,"title":null}},
   "color":{"datum":"median relative yield change (%)","type":"nominal","scale":{"range":["#000000"]},"legend":{"orient":"none","legendX":229,"legendY":745,"title":null}}}},
 {"data":{"name":"lab"},"transform":[{"filter":"datum.r==='NEC'"}],"mark":{"type":"text","align":"left","baseline":"middle","font":"Liberation Sans","fontWeight":"bold","fontSize":14,"color":"#000"},
  "encoding":{"x":{"field":"t","type":"quantitative","axis":null},"y":{"field":"v","type":"quantitative","axis":null},"text":{"field":"label"}}}
]},
{"width":371,"height":169,"resolve":{"axis":{"x":"independent","y":"independent"}},"layer":[
 {"data":{"name":"band"},"transform":[{"filter":"datum.r==='NC'"}],"mark":{"type":"area","color":"#d9d9d9","opacity":1},
  "encoding":{"x":{"field":"t","type":"quantitative","scale":{"domain":[1995,2083.4],"nice":false,"zero":false},"axis":{"orient":"bottom","values":[2000,2020,2040,2060,2080],"labels":false,"title":null}},
   "y":{"field":"lo","type":"quantitative","scale":{"domain":[-17,5],"nice":false,"zero":false},"axis":{"orient":"left","values":[-15,-10,-5,0,5],"title":"Relative change of maize (%)","titleX":-22.5,"labelFontSize":13,"titleFontSize":12.5}},"y2":{"field":"hi"}}},
 {"data":{"values":[{}]},"mark":{"type":"rule","color":"#555","strokeWidth":0.8,"strokeDash":[1.5,1.5]},"encoding":{"y":{"datum":0,"type":"quantitative","axis":null}}},
 {"data":{"name":"med"},"transform":[{"filter":"datum.r==='NC'"}],"mark":{"type":"line","strokeWidth":2.5,"strokeJoin":"round"},
  "encoding":{"x":{"field":"t","type":"quantitative","axis":{"orient":"top","values":[2000,2020,2040,2060,2080],"labels":false,"title":null}},"y":{"field":"v","type":"quantitative","axis":{"orient":"right","values":[-15,-10,-5,0,5],"labels":false,"title":null}},
   "color":{"datum":"median relative yield change (%)","type":"nominal","scale":{"range":["#000000"]},"legend":{"orient":"none","legendX":229,"legendY":745,"title":null}}}},
 {"data":{"name":"lab"},"transform":[{"filter":"datum.r==='NC'"}],"mark":{"type":"text","align":"left","baseline":"middle","font":"Liberation Sans","fontWeight":"bold","fontSize":14,"color":"#000"},
  "encoding":{"x":{"field":"t","type":"quantitative","axis":null},"y":{"field":"v","type":"quantitative","axis":null},"text":{"field":"label"}}}
]},
{"width":374,"height":169,"resolve":{"axis":{"x":"independent","y":"independent"}},"layer":[
 {"data":{"name":"band"},"transform":[{"filter":"datum.r==='EC'"}],"mark":{"type":"area","color":"#d9d9d9","opacity":1},
  "encoding":{"x":{"field":"t","type":"quantitative","scale":{"domain":[1995,2084],"nice":false,"zero":false},"axis":{"orient":"bottom","values":[2000,2020,2040,2060,2080],"labels":false,"title":null}},
   "y":{"field":"lo","type":"quantitative","scale":{"domain":[-18,5],"nice":false,"zero":false},"axis":{"orient":"left","values":[-15,-10,-5,0,5],"title":"Relative change of maize (%)","titleX":-23.7,"labelFontSize":13,"titleFontSize":12.5}},"y2":{"field":"hi"}}},
 {"data":{"values":[{}]},"mark":{"type":"rule","color":"#555","strokeWidth":0.8,"strokeDash":[1.5,1.5]},"encoding":{"y":{"datum":0,"type":"quantitative","axis":null}}},
 {"data":{"name":"med"},"transform":[{"filter":"datum.r==='EC'"}],"mark":{"type":"line","strokeWidth":2.5,"strokeJoin":"round"},
  "encoding":{"x":{"field":"t","type":"quantitative","axis":{"orient":"top","values":[2000,2020,2040,2060,2080],"labels":false,"title":null}},"y":{"field":"v","type":"quantitative","axis":{"orient":"right","values":[-15,-10,-5,0,5],"labels":false,"title":null}},
   "color":{"datum":"median relative yield change (%)","type":"nominal","scale":{"range":["#000000"]},"legend":{"orient":"none","legendX":229,"legendY":745,"title":null}}}},
 {"data":{"name":"lab"},"transform":[{"filter":"datum.r==='EC'"}],"mark":{"type":"text","align":"left","baseline":"middle","font":"Liberation Sans","fontWeight":"bold","fontSize":14,"color":"#000"},
  "encoding":{"x":{"field":"t","type":"quantitative","axis":null},"y":{"field":"v","type":"quantitative","axis":null},"text":{"field":"label"}}}
]},
{"width":371,"height":169,"resolve":{"axis":{"x":"independent","y":"independent"}},"layer":[
 {"data":{"name":"band"},"transform":[{"filter":"datum.r==='SC'"}],"mark":{"type":"area","color":"#d9d9d9","opacity":1},
  "encoding":{"x":{"field":"t","type":"quantitative","scale":{"domain":[1995,2083.4],"nice":false,"zero":false},"axis":{"orient":"bottom","values":[2000,2020,2040,2060,2080],"labels":false,"title":null}},
   "y":{"field":"lo","type":"quantitative","scale":{"domain":[-44,2],"nice":false,"zero":false},"axis":{"orient":"left","values":[-40,-30,-20,-10,0],"title":"Relative change of maize (%)","titleX":-22.5,"labelFontSize":13,"titleFontSize":12.5}},"y2":{"field":"hi"}}},
 {"data":{"values":[{}]},"mark":{"type":"rule","color":"#555","strokeWidth":0.8,"strokeDash":[1.5,1.5]},"encoding":{"y":{"datum":0,"type":"quantitative","axis":null}}},
 {"data":{"name":"med"},"transform":[{"filter":"datum.r==='SC'"}],"mark":{"type":"line","strokeWidth":2.5,"strokeJoin":"round"},
  "encoding":{"x":{"field":"t","type":"quantitative","axis":{"orient":"top","values":[2000,2020,2040,2060,2080],"labels":false,"title":null}},"y":{"field":"v","type":"quantitative","axis":{"orient":"right","values":[-40,-30,-20,-10,0],"labels":false,"title":null}},
   "color":{"datum":"median relative yield change (%)","type":"nominal","scale":{"range":["#000000"]},"legend":{"orient":"none","legendX":229,"legendY":745,"title":null}}}},
 {"data":{"name":"lab"},"transform":[{"filter":"datum.r==='SC'"}],"mark":{"type":"text","align":"left","baseline":"middle","font":"Liberation Sans","fontWeight":"bold","fontSize":14,"color":"#000"},
  "encoding":{"x":{"field":"t","type":"quantitative","axis":null},"y":{"field":"v","type":"quantitative","axis":null},"text":{"field":"label"}}}
]},
{"width":374,"height":169,"resolve":{"axis":{"x":"independent","y":"independent"}},"layer":[
 {"data":{"name":"band"},"transform":[{"filter":"datum.r==='CC'"}],"mark":{"type":"area","color":"#d9d9d9","opacity":1},
  "encoding":{"x":{"field":"t","type":"quantitative","scale":{"domain":[1995,2084],"nice":false,"zero":false},"axis":{"orient":"bottom","values":[2000,2020,2040,2060,2080],"labels":false,"title":null}},
   "y":{"field":"lo","type":"quantitative","scale":{"domain":[-14,9],"nice":false,"zero":false},"axis":{"orient":"left","values":[-10,-5,0,5],"title":"Relative change of maize (%)","titleX":-23.7,"labelFontSize":13,"titleFontSize":12.5}},"y2":{"field":"hi"}}},
 {"data":{"values":[{}]},"mark":{"type":"rule","color":"#555","strokeWidth":0.8,"strokeDash":[1.5,1.5]},"encoding":{"y":{"datum":0,"type":"quantitative","axis":null}}},
 {"data":{"name":"med"},"transform":[{"filter":"datum.r==='CC'"}],"mark":{"type":"line","strokeWidth":2.5,"strokeJoin":"round"},
  "encoding":{"x":{"field":"t","type":"quantitative","axis":{"orient":"top","values":[2000,2020,2040,2060,2080],"labels":false,"title":null}},"y":{"field":"v","type":"quantitative","axis":{"orient":"right","values":[-10,-5,0,5],"labels":false,"title":null}},
   "color":{"datum":"median relative yield change (%)","type":"nominal","scale":{"range":["#000000"]},"legend":{"orient":"none","legendX":229,"legendY":745,"title":null}}}},
 {"data":{"name":"lab"},"transform":[{"filter":"datum.r==='CC'"}],"mark":{"type":"text","align":"left","baseline":"middle","font":"Liberation Sans","fontWeight":"bold","fontSize":14,"color":"#000"},
  "encoding":{"x":{"field":"t","type":"quantitative","axis":null},"y":{"field":"v","type":"quantitative","axis":null},"text":{"field":"label"}}}
]},
{"width":371,"height":169,"resolve":{"axis":{"x":"independent","y":"independent"}},"layer":[
 {"data":{"name":"band"},"transform":[{"filter":"datum.r==='SWC'"}],"mark":{"type":"area","color":"#d9d9d9","opacity":1},
  "encoding":{"x":{"field":"t","type":"quantitative","scale":{"domain":[1995,2083.4],"nice":false,"zero":false},"axis":{"orient":"bottom","values":[2000,2020,2040,2060,2080],"labels":false,"title":null}},
   "y":{"field":"lo","type":"quantitative","scale":{"domain":[-18,8],"nice":false,"zero":false},"axis":{"orient":"left","values":[-15,-10,-5,0,5],"title":"Relative change of maize (%)","titleX":-22.5,"labelFontSize":13,"titleFontSize":12.5}},"y2":{"field":"hi"}}},
 {"data":{"values":[{}]},"mark":{"type":"rule","color":"#555","strokeWidth":0.8,"strokeDash":[1.5,1.5]},"encoding":{"y":{"datum":0,"type":"quantitative","axis":null}}},
 {"data":{"name":"med"},"transform":[{"filter":"datum.r==='SWC'"}],"mark":{"type":"line","strokeWidth":2.5,"strokeJoin":"round"},
  "encoding":{"x":{"field":"t","type":"quantitative","axis":{"orient":"top","values":[2000,2020,2040,2060,2080],"labels":false,"title":null}},"y":{"field":"v","type":"quantitative","axis":{"orient":"right","values":[-15,-10,-5,0,5],"labels":false,"title":null}},
   "color":{"datum":"median relative yield change (%)","type":"nominal","scale":{"range":["#000000"]},"legend":{"orient":"none","legendX":229,"legendY":745,"title":null}}}},
 {"data":{"name":"lab"},"transform":[{"filter":"datum.r==='SWC'"}],"mark":{"type":"text","align":"left","baseline":"middle","font":"Liberation Sans","fontWeight":"bold","fontSize":14,"color":"#000"},
  "encoding":{"x":{"field":"t","type":"quantitative","axis":null},"y":{"field":"v","type":"quantitative","axis":null},"text":{"field":"label"}}}
]},
{"width":374,"height":169,"resolve":{"axis":{"x":"independent","y":"independent"}},"layer":[
 {"data":{"name":"band"},"transform":[{"filter":"datum.r==='NWC'"}],"mark":{"type":"area","color":"#d9d9d9","opacity":1},
  "encoding":{"x":{"field":"t","type":"quantitative","scale":{"domain":[1995,2084],"nice":false,"zero":false},"axis":{"orient":"bottom","values":[2000,2010,2020,2030,2040,2050,2060,2070,2080],"format":"d","labels":true,"title":"Year"}},
   "y":{"field":"lo","type":"quantitative","scale":{"domain":[-12,14],"nice":false,"zero":false},"axis":{"orient":"left","values":[-10,-5,0,5,10],"title":"Relative change of maize (%)","titleX":-23.7,"labelFontWeight":"bold","labelFontSize":13,"titleFontSize":12.5}},"y2":{"field":"hi"}}},
 {"data":{"values":[{}]},"mark":{"type":"rule","color":"#555","strokeWidth":0.8,"strokeDash":[1.5,1.5]},"encoding":{"y":{"datum":0,"type":"quantitative","axis":null}}},
 {"data":{"name":"med"},"transform":[{"filter":"datum.r==='NWC'"}],"mark":{"type":"line","strokeWidth":2.5,"strokeJoin":"round"},
  "encoding":{"x":{"field":"t","type":"quantitative","axis":{"orient":"top","values":[2000,2010,2020,2030,2040,2050,2060,2070,2080],"labels":false,"title":null}},"y":{"field":"v","type":"quantitative","axis":{"orient":"right","values":[-10,-5,0,5,10],"labels":false,"title":null}},
   "color":{"datum":"median relative yield change (%)","type":"nominal","scale":{"range":["#000000"]},"legend":{"orient":"none","legendX":229,"legendY":745,"title":null}}}},
 {"data":{"name":"lab"},"transform":[{"filter":"datum.r==='NWC'"}],"mark":{"type":"text","align":"left","baseline":"middle","font":"Liberation Sans","fontWeight":"bold","fontSize":14,"color":"#000"},
  "encoding":{"x":{"field":"t","type":"quantitative","axis":null},"y":{"field":"v","type":"quantitative","axis":null},"text":{"field":"label"}}}
]},
{"width":371,"height":169,"resolve":{"axis":{"x":"independent","y":"independent"}},"layer":[
 {"data":{"name":"band"},"transform":[{"filter":"datum.r==='XJ'"}],"mark":{"type":"area","color":"#d9d9d9","opacity":1},
  "encoding":{"x":{"field":"t","type":"quantitative","scale":{"domain":[1995,2083.4],"nice":false,"zero":false},"axis":{"orient":"bottom","values":[2000,2010,2020,2030,2040,2050,2060,2070,2080],"format":"d","labels":true,"title":"Year"}},
   "y":{"field":"lo","type":"quantitative","scale":{"domain":[-16,4],"nice":false,"zero":false},"axis":{"orient":"left","values":[-15,-10,-5,0],"title":"Relative change of maize (%)","titleX":-22.5,"labelFontWeight":"bold","labelFontSize":13,"titleFontSize":12.5}},"y2":{"field":"hi"}}},
 {"data":{"values":[{}]},"mark":{"type":"rule","color":"#555","strokeWidth":0.8,"strokeDash":[1.5,1.5]},"encoding":{"y":{"datum":0,"type":"quantitative","axis":null}}},
 {"data":{"name":"med"},"transform":[{"filter":"datum.r==='XJ'"}],"mark":{"type":"line","strokeWidth":2.5,"strokeJoin":"round"},
  "encoding":{"x":{"field":"t","type":"quantitative","axis":{"orient":"top","values":[2000,2010,2020,2030,2040,2050,2060,2070,2080],"labels":false,"title":null}},"y":{"field":"v","type":"quantitative","axis":{"orient":"right","values":[-15,-10,-5,0],"labels":false,"title":null}},
   "color":{"datum":"median relative yield change (%)","type":"nominal","scale":{"range":["#000000"]},"legend":{"orient":"none","legendX":229,"legendY":745,"title":null}}}},
 {"data":{"name":"lab"},"transform":[{"filter":"datum.r==='XJ'"}],"mark":{"type":"text","align":"left","baseline":"middle","font":"Liberation Sans","fontWeight":"bold","fontSize":14,"color":"#000"},
  "encoding":{"x":{"field":"t","type":"quantitative","axis":null},"y":{"field":"v","type":"quantitative","axis":null},"text":{"field":"label"}}}
]}
],
"config": {
 "font": "Liberation Sans",
 "background": "#ffffff",
 "view": {"stroke": "#555555", "strokeWidth": 1},
 "axis": {"grid": false, "domain": false, "tickSize": -4, "tickColor": "#555555", "tickWidth": 1, "labelFont": "Liberation Sans", "labelColor": "#000000", "titleFont": "Liberation Serif", "titleFontWeight": "bold", "titleColor": "#000000", "labelFlush": false, "labelOverlap": false},
 "axisX": {"labelFontSize": 12.5, "labelFontWeight": "bold", "labelPadding": 10, "titleFontSize": 14, "titlePadding": 2},
 "axisY": {"labelFontSize": 13, "labelFontWeight": "normal", "labelPadding": 6, "titleFontSize": 12.5, "titleBaseline": "alphabetic", "titleAngle": -90, "titleY": 84.5},
 "legend": {"symbolType": "stroke", "symbolSize": 1600, "symbolStrokeWidth": 2.5, "labelFont": "Liberation Sans", "labelFontSize": 16.3, "labelFontWeight": "bold", "labelColor": "#000000", "labelLimit": 500, "labelOffset": 7, "padding": 0}
}
}
